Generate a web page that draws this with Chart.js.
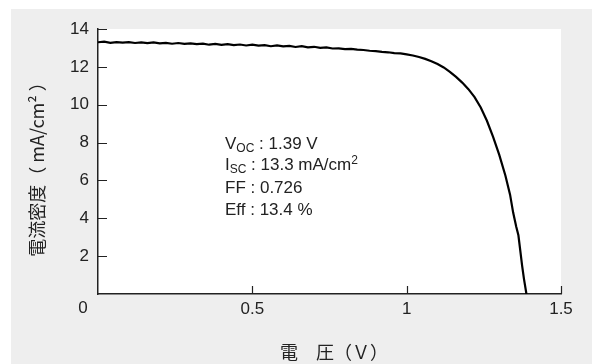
<!DOCTYPE html>
<html>
<head>
<meta charset="utf-8">
<script src="https://cdn.jsdelivr.net/npm/chart.js@4"></script>
<style>
    body { margin: 0; background: #fff; }
    #wrap { position: absolute; left: 11px; top: 9px; width: 581px; height: 355px; background: #eeeeee; }
</style>
</head>
<body>
<div id="wrap"><canvas id="jvChart" width="581" height="355"></canvas></div>
<script>
// J-V curve
const voltage = [0.00, 0.02, 0.04, 0.06, 0.08, 0.10, 0.12, 0.14, 0.16, 0.18, 0.20, 0.22, 0.24, 0.26, 0.28, 0.30,
    0.32, 0.34, 0.36, 0.38, 0.40, 0.42, 0.44, 0.46, 0.48, 0.50, 0.52, 0.54, 0.56, 0.58, 0.60, 0.62, 0.64, 0.66,
    0.68, 0.70, 0.72, 0.74, 0.76, 0.78, 0.80, 0.82, 0.84, 0.86, 0.88, 0.90, 0.92, 0.94, 0.96, 0.98, 1.00, 1.02,
    1.04, 1.06, 1.08, 1.10, 1.12, 1.14, 1.16, 1.18, 1.20, 1.22, 1.24, 1.26, 1.28, 1.30, 1.32, 1.335, 1.345,
    1.355, 1.362, 1.368, 1.374, 1.380, 1.388];
const current = [13.30, 13.33, 13.27, 13.31, 13.28, 13.31, 13.26, 13.29, 13.25, 13.29, 13.24, 13.27, 13.22, 13.26, 13.21, 13.24,
    13.20, 13.23, 13.17, 13.21, 13.16, 13.20, 13.15, 13.18, 13.13, 13.17, 13.12, 13.15, 13.09, 13.13, 13.08, 13.11, 13.05, 13.09,
    13.03, 13.06, 13.00, 13.03, 12.97, 12.98, 12.94, 12.95, 12.91, 12.89, 12.85, 12.83, 12.79, 12.77, 12.73, 12.71, 12.66, 12.60,
    12.52, 12.42, 12.30, 12.15, 11.97, 11.74, 11.47, 11.17, 10.82, 10.40, 9.85, 9.15, 8.30, 7.35, 6.25, 5.25, 4.30,
    3.55, 3.10, 2.30, 1.50, 0.80, 0.00];
const xTicks = [0, 0.5, 1, 1.5];
const yTicks = [0, 2, 4, 6, 8, 10, 12, 14];

const xTitle = '電　圧（Ｖ）';
const yTitle = '電流密度（ mA/cm² ）';

const fontFamily = '"Liberation Sans", Arial, sans-serif';
const cjkFont = '"Noto Sans CJK JP", "Liberation Sans", sans-serif';
const ink = '#222';

// white plot area behind the curve
const plotBg = {
    id: 'plotBg',
    beforeDraw(chart) {
        const a = chart.chartArea;
        chart.ctx.save();
        chart.ctx.fillStyle = '#fff';
        chart.ctx.fillRect(a.left, a.top, a.right - a.left, a.bottom - a.top);
        chart.ctx.restore();
    }
};

// extra drawing: inward ticks, origin "0", titles, parameter box
const decorations = {
    id: 'decorations',
    afterDraw(chart) {
        const ctx = chart.ctx;
        const x = chart.scales.x;
        const y = chart.scales.y;
        const area = chart.chartArea;
        ctx.save();
        ctx.strokeStyle = ink;
        ctx.lineWidth = 1.2;
        ctx.beginPath();
        yTicks.forEach(v => {
            if (v === 0) return;
            const py = Math.round(y.getPixelForValue(v)) + 0.5;
            ctx.moveTo(area.left, py);
            ctx.lineTo(area.left + 9, py);
        });
        xTicks.forEach(v => {
            if (v === 0) return;
            const px = Math.round(x.getPixelForValue(v)) + 0.5;
            ctx.moveTo(px, area.bottom);
            ctx.lineTo(px, area.bottom - 8);
        });
        ctx.stroke();

        ctx.fillStyle = ink;
        ctx.font = '17px ' + fontFamily;
        ctx.textAlign = 'center';
        ctx.textBaseline = 'middle';
        ctx.fillText('0', 72, 299);

        // axis titles
        ctx.font = '18px ' + cjkFont;
        ctx.fillText(xTitle, 323, 343);
        ctx.save();
        ctx.translate(26, 156);
        ctx.rotate(-Math.PI / 2);
        ctx.fillText(yTitle, 0, 0);
        ctx.restore();

        // parameter box
        ctx.textAlign = 'left';
        ctx.textBaseline = 'alphabetic';
        const left = 214;
        const big = '17px ' + fontFamily;
        const small = '12px ' + fontFamily;
        function run(parts, baseline) {
            let cx = left;
            parts.forEach(p => {
                ctx.font = p[1] ? small : big;
                const dy = p[1] === 'sub' ? 3 : p[1] === 'sup' ? -6 : 0;
                ctx.fillText(p[0], cx, baseline + dy);
                cx += ctx.measureText(p[0]).width;
            });
        }
        run([['V'], ['OC', 'sub'], [' : 1.39 V']], 140);
        run([['I'], ['SC', 'sub'], [' : 13.3 mA/cm'], ['2', 'sup']], 161);
        run([['FF : 0.726']], 184);
        run([['Eff : 13.4 %']], 206);
        ctx.restore();
    }
};

new Chart(document.getElementById('jvChart'), {
    type: 'line',
    data: {
        datasets: [{
            data: voltage.map((v, i) => ({ x: v, y: current[i] })),
            borderColor: '#000',
            borderWidth: 2.2,
            pointRadius: 0,
            tension: 0,
            fill: false
        }]
    },
    options: {
        responsive: false,
        animation: false,
        layout: { padding: { top: 20, right: 31, left: 0, bottom: 0 } },
        plugins: { legend: { display: false }, tooltip: { enabled: false } },
        scales: {
            x: {
                type: 'linear',
                min: 0,
                max: 1.5,
                afterFit: s => { s.height = 70; },
                afterBuildTicks: s => { s.ticks = xTicks.map(v => ({ value: v })); },
                grid: { display: false, drawTicks: false },
                border: { color: ink, width: 1.5 },
                ticks: {
                    color: ink,
                    padding: 5,
                    font: { size: 17, family: fontFamily },
                    callback: v => v === 0 ? '' : String(v)
                }
            },
            y: {
                min: 0,
                max: 14,
                afterFit: s => { s.width = 87; },
                afterBuildTicks: s => { s.ticks = yTicks.map(v => ({ value: v })); },
                grid: { display: false, drawTicks: false },
                border: { color: ink, width: 1.5 },
                ticks: {
                    color: ink,
                    padding: 9,
                    font: { size: 17, family: fontFamily },
                    callback: v => v === 0 ? '' : String(v)
                }
            }
        }
    },
    plugins: [plotBg, decorations]
});
</script>
</body>
</html>
